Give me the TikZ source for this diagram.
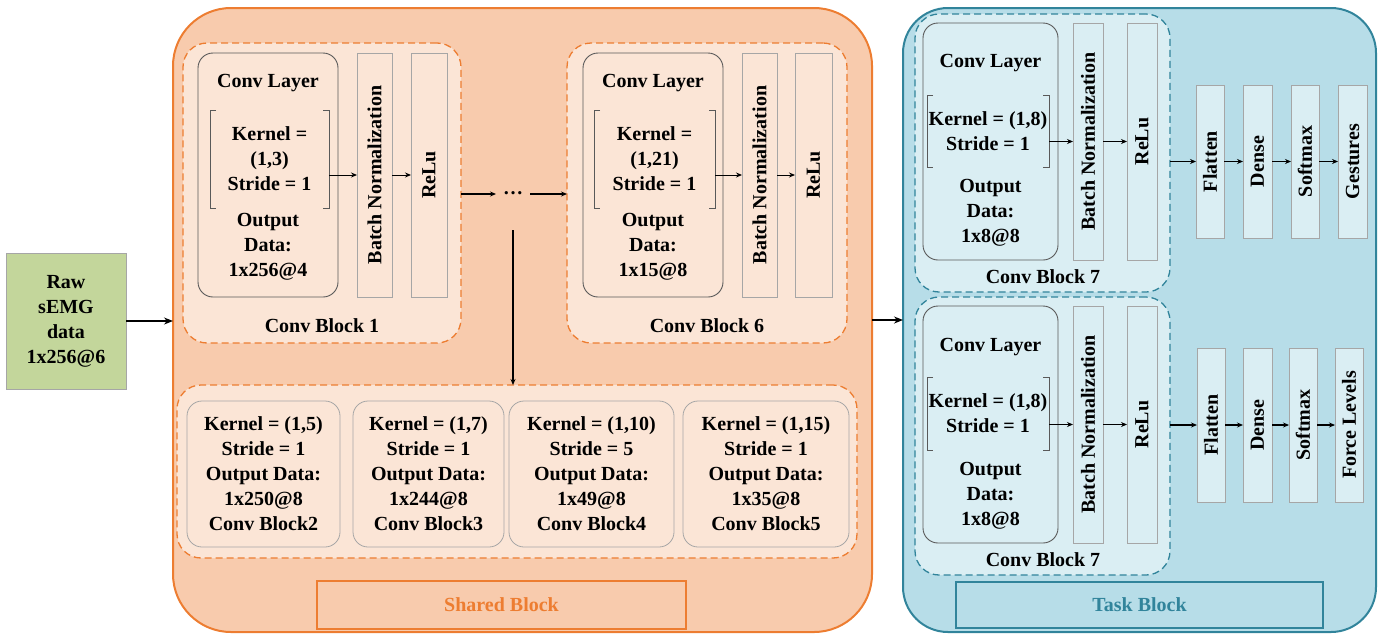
\documentclass[tikz,border=0pt]{standalone}
\usepackage{fontspec}
\setmainfont{Liberation Serif}
\usetikzlibrary{arrows.meta}

\definecolor{orangeline}{HTML}{ED7D31}
\definecolor{peach}{HTML}{F8CBAD}
\definecolor{peachlight}{HTML}{FBE5D6}
\definecolor{tealline}{HTML}{31849B}
\definecolor{bluefill}{HTML}{B7DDE8}
\definecolor{bluelight}{HTML}{DAEEF3}
\definecolor{greenfill}{HTML}{C3D69B}
\definecolor{boxline}{HTML}{595959}
\definecolor{layerline}{HTML}{A6A6A6}

% box from top-left (x1,y1) to bottom-right (x2,y2), pixel-like units
\newcommand\boxat[7]{\node[#1, anchor=north west, minimum width=#5pt-#3pt,
  minimum height=#6pt-#4pt] (#2) at (#3,#4) {#7};}
% square bracket pair round a node
\newcommand\brackets[1]{%
  \draw[bracket] ([xshift=6pt]#1.north west) -- (#1.north west) -- (#1.south west) -- ([xshift=6pt]#1.south west);
  \draw[bracket] ([xshift=-6pt]#1.north east) -- (#1.north east) -- (#1.south east) -- ([xshift=-6pt]#1.south east);}
\newcommand\vtext[1]{\rotatebox{90}{#1}}

\tikzset{
  every node/.style={font=\fontsize{20}{25}\selectfont\bfseries, inner sep=0pt, outer sep=0pt, align=center},
  rawbox/.style={draw=layerline, fill=greenfill, line width=0.8pt},
  sharedbox/.style={draw=orangeline, fill=peach, line width=2pt, rounded corners=58pt},
  taskbox/.style={draw=tealline, fill=bluefill, line width=2pt, rounded corners=45pt},
  sharedblock/.style={draw=orangeline, fill=peachlight, line width=1.3pt, dash pattern=on 7pt off 4pt, rounded corners=24pt},
  taskblock/.style={draw=tealline, fill=bluelight, line width=1.3pt, dash pattern=on 7pt off 4pt, rounded corners=24pt},
  convbox/.style={draw=boxline, line width=0.9pt, rounded corners=15pt},
  subbox/.style={draw=layerline, line width=0.8pt, rounded corners=15pt},
  layerbox/.style={draw=layerline, line width=0.8pt},
  bracket/.style={draw=boxline, line width=0.8pt},
  sharedlabel/.style={draw=orangeline, line width=1.8pt, text=orangeline},
  tasklabel/.style={draw=tealline, line width=1.8pt, text=tealline},
  arr/.style={-{Stealth[length=9pt,width=7pt]}, line width=1.4pt},
  smallarr/.style={-{Stealth[length=6pt,width=5pt]}, line width=0.9pt},
}

\begin{document}
\begin{tikzpicture}[x=1pt, y=-1pt]
\useasboundingbox (0,0) rectangle (1380,635);

% ---------------- input ----------------
\boxat{rawbox}{raw}{6}{253}{126}{389}{Raw\\sEMG\\data\\1x256@6}

% ---------------- shared block ----------------
\boxat{sharedbox}{shared}{173}{8}{872}{632}{}

% conv block 1
\boxat{sharedblock}{cb1}{183}{43}{461}{343}{}
\node (cb1lab) at (322,326) {Conv Block 1};
\boxat{convbox, fill=peachlight}{conv1}{198}{53}{338}{297}{}
\node (conv1t) at (268,83) {Conv Layer};
\node[minimum width=119pt, minimum height=98pt] (k1) at (269.5,159) {Kernel =\\(1,3)\\Stride = 1};
\brackets{k1}
\node (out1) at (268,247) {Output\\Data:\\1x256@4};
\boxat{layerbox, fill=peachlight}{bn1}{357}{53}{392}{297}{\vtext{Batch Normalization}}
\boxat{layerbox, fill=peachlight}{relu1}{411}{53}{447}{297}{\vtext{ReLu}}
\draw[smallarr] (k1.east |- bn1.west) -- (bn1.west);
\draw[smallarr] (bn1.east) -- (relu1.west);

% ellipsis between block 1 and block 6
\node[inner xsep=7pt, anchor=base] (dots) at (513,194) {…};
\draw[smallarr, line width=1.1pt] (cb1.east |- dots.base west) -- (dots.base west);

% conv block 6
\boxat{sharedblock}{cb6}{567}{43}{847}{343}{}
\draw[smallarr, line width=1.1pt] (dots.base east) -- (dots.base east -| cb6.west);
\node (cb6lab) at (707,326) {Conv Block 6};
\boxat{convbox, fill=peachlight}{conv6}{583}{53}{723}{297}{}
\node (conv6t) at (653,83) {Conv Layer};
\node[minimum width=121pt, minimum height=98pt] (k6) at (654.5,159) {Kernel =\\(1,21)\\Stride = 1};
\brackets{k6}
\node (out6) at (653,247) {Output\\Data:\\1x15@8};
\boxat{layerbox, fill=peachlight}{bn6}{742}{53}{777}{297}{\vtext{Batch Normalization}}
\boxat{layerbox, fill=peachlight}{relu6}{795}{53}{832}{297}{\vtext{ReLu}}
\draw[smallarr] (k6.east |- bn6.west) -- (bn6.west);
\draw[smallarr] (bn6.east) -- (relu6.west);

% conv blocks 2-5
\boxat{sharedblock}{cbb}{177}{385}{857}{558}{}
\coordinate (split) at (513,230);
\draw[smallarr, line width=1.1pt] (split) -- (split |- cbb.north);
\boxat{subbox, fill=peachlight}{cb2}{187}{401}{340}{547}{Kernel = (1,5)\\Stride = 1\\Output Data:\\1x250@8\\Conv Block2}
\boxat{subbox, fill=peachlight}{cb3}{353}{401}{504}{547}{Kernel = (1,7)\\Stride = 1\\Output Data:\\1x244@8\\Conv Block3}
\boxat{subbox, fill=peachlight}{cb4}{509}{401}{674}{547}{Kernel = (1,10)\\Stride = 5\\Output Data:\\1x49@8\\Conv Block4}
\boxat{subbox, fill=peachlight}{cb5}{683}{401}{849}{547}{Kernel = (1,15)\\Stride = 1\\Output Data:\\1x35@8\\Conv Block5}

\boxat{sharedlabel}{sharedlab}{317}{581}{686}{629}{Shared Block}

% ---------------- task block ----------------
\boxat{taskbox}{task}{903}{8}{1376}{632}{}
\draw[arr] (shared.east) -- (task.west);
\draw[arr] (raw.east) -- (raw.east -| shared.west);

% gesture branch
\boxat{taskblock}{cb7a}{915}{14}{1170}{292}{}
\node (cb7alab) at (1043,277) {Conv Block 7};
\boxat{convbox, fill=bluelight}{conv7a}{923}{23}{1058}{260}{}
\node (conv7at) at (990.5,63) {Conv Layer};
\node[minimum width=122pt, minimum height=72pt] (k7a) at (988,131) {Kernel = (1,8)\\Stride = 1};
\brackets{k7a}
\node (out7a) at (990.5,213) {Output\\Data:\\1x8@8};
\boxat{layerbox, fill=bluelight}{bn7a}{1073}{23}{1103}{260}{\vtext{Batch Normalization}}
\boxat{layerbox, fill=bluelight}{relu7a}{1127}{23}{1157}{260}{\vtext{ReLu}}
\draw[smallarr] (k7a.east |- bn7a.west) -- (bn7a.west);
\draw[smallarr] (bn7a.east) -- (relu7a.west);
\boxat{layerbox, fill=bluelight}{fla}{1196}{85}{1224}{238}{\vtext{Flatten}}
\boxat{layerbox, fill=bluelight}{dna}{1243}{85}{1272}{238}{\vtext{Dense}}
\boxat{layerbox, fill=bluelight}{sma}{1291}{85}{1319}{238}{\vtext{Softmax}}
\boxat{layerbox, fill=bluelight}{gest}{1338}{85}{1367}{238}{\vtext{Gestures}}
\draw[smallarr, line width=1.2pt] (cb7a.east |- fla.west) -- (fla.west);
\draw[smallarr, line width=1.2pt] (fla.east) -- (dna.west);
\draw[smallarr, line width=1.2pt] (dna.east) -- (sma.west);
\draw[smallarr, line width=1.2pt] (sma.east) -- (gest.west);

% force branch
\boxat{taskblock}{cb7b}{915}{297}{1170}{575}{}
\node (cb7blab) at (1043,560) {Conv Block 7};
\boxat{convbox, fill=bluelight}{conv7b}{923}{306}{1058}{543}{}
\node (conv7bt) at (990.5,347) {Conv Layer};
\node[minimum width=122pt, minimum height=73pt] (k7b) at (988,413.5) {Kernel = (1,8)\\Stride = 1};
\brackets{k7b}
\node (out7b) at (990.5,496) {Output\\Data:\\1x8@8};
\boxat{layerbox, fill=bluelight}{bn7b}{1073}{306}{1103}{543}{\vtext{Batch Normalization}}
\boxat{layerbox, fill=bluelight}{relu7b}{1127}{306}{1157}{543}{\vtext{ReLu}}
\draw[smallarr] (k7b.east |- bn7b.west) -- (bn7b.west);
\draw[smallarr] (bn7b.east) -- (relu7b.west);
\boxat{layerbox, fill=bluelight}{flb}{1197}{348}{1225}{502}{\vtext{Flatten}}
\boxat{layerbox, fill=bluelight}{dnb}{1243}{348}{1272}{502}{\vtext{Dense}}
\boxat{layerbox, fill=bluelight}{smb}{1289}{348}{1317}{502}{\vtext{Softmax}}
\boxat{layerbox, fill=bluelight}{force}{1335}{348}{1363}{502}{\vtext{Force Levels}}
\draw[smallarr, line width=1.2pt] (cb7b.east |- flb.west) -- (flb.west);
\draw[smallarr, line width=1.2pt] (flb.east) -- (dnb.west);
\draw[smallarr, line width=1.2pt] (dnb.east) -- (smb.west);
\draw[smallarr, line width=1.2pt] (smb.east) -- (force.west);

\boxat{tasklabel}{tasklab}{956}{582}{1323}{628}{Task Block}
\end{tikzpicture}
\end{document}
